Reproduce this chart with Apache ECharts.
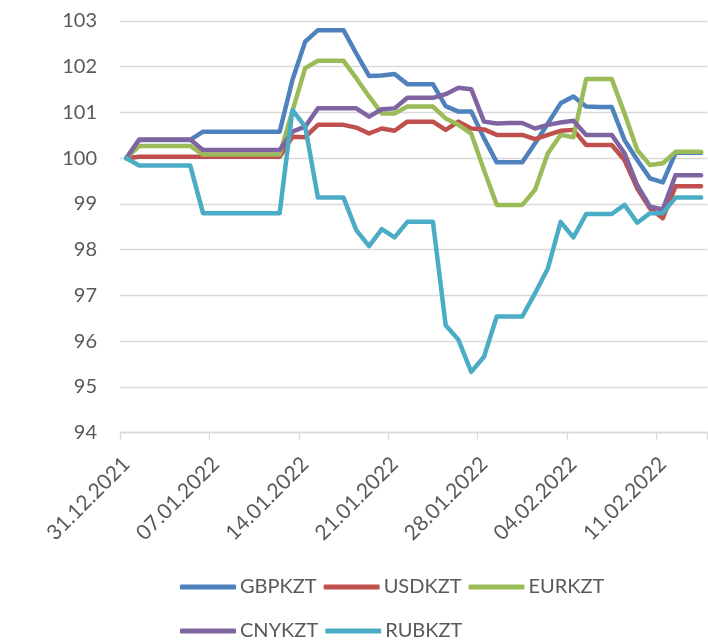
<!DOCTYPE html>
<html>
<head>
<meta charset="utf-8">
<script src="https://cdn.jsdelivr.net/npm/echarts@6/dist/echarts.min.js"></script>
<style>
html,body{margin:0;padding:0;background:#fff;}
#chart{width:708px;height:642px;}
</style>
</head>
<body>
<div id="chart"></div>
<script>
const dates = [
  '31.12.2021','01.01.2022','02.01.2022','03.01.2022','04.01.2022','05.01.2022','06.01.2022',
  '07.01.2022','08.01.2022','09.01.2022','10.01.2022','11.01.2022','12.01.2022','13.01.2022',
  '14.01.2022','15.01.2022','16.01.2022','17.01.2022','18.01.2022','19.01.2022','20.01.2022',
  '21.01.2022','22.01.2022','23.01.2022','24.01.2022','25.01.2022','26.01.2022','27.01.2022',
  '28.01.2022','29.01.2022','30.01.2022','31.01.2022','01.02.2022','02.02.2022','03.02.2022',
  '04.02.2022','05.02.2022','06.02.2022','07.02.2022','08.02.2022','09.02.2022','10.02.2022',
  '11.02.2022','12.02.2022','13.02.2022','14.02.2022'
];
const gbp = [100, 100.40, 100.40, 100.40, 100.40, 100.40, 100.58, 100.58, 100.58, 100.58, 100.58, 100.58, 100.58,
  101.71, 102.55, 102.80, 102.80, 102.80, 102.29, 101.80, 101.81, 101.84, 101.62, 101.62, 101.62,
  101.14, 101.02, 101.02, 100.44, 99.91, 99.91, 99.91, 100.33, 100.76, 101.20, 101.35, 101.13,
  101.12, 101.12, 100.40, 99.96, 99.56, 99.47, 100.12, 100.12, 100.12];
const usd = [100, 100.03, 100.03, 100.03, 100.03, 100.03, 100.03, 100.03, 100.03, 100.03, 100.03, 100.03, 100.03,
  100.47, 100.46, 100.73, 100.73, 100.73, 100.67, 100.54, 100.65, 100.60, 100.80, 100.80, 100.80,
  100.62, 100.80, 100.65, 100.63, 100.51, 100.51, 100.51, 100.42, 100.51, 100.60, 100.62, 100.29,
  100.29, 100.29, 99.96, 99.34, 98.90, 98.69, 99.39, 99.39, 99.39];
const eur = [100, 100.27, 100.27, 100.27, 100.27, 100.27, 100.08, 100.08, 100.08, 100.08, 100.08, 100.08, 100.08,
  101.03, 101.97, 102.13, 102.13, 102.13, 101.75, 101.35, 100.98, 100.98, 101.13, 101.13, 101.13,
  100.87, 100.73, 100.54, 99.74, 98.98, 98.98, 98.98, 99.31, 100.11, 100.51, 100.46, 101.73,
  101.73, 101.73, 100.98, 100.18, 99.85, 99.89, 100.14, 100.14, 100.14];
const cny = [100, 100.41, 100.41, 100.41, 100.41, 100.41, 100.18, 100.18, 100.18, 100.18, 100.18, 100.18, 100.18,
  100.58, 100.69, 101.09, 101.09, 101.09, 101.09, 100.91, 101.07, 101.09, 101.32, 101.32, 101.32,
  101.40, 101.54, 101.51, 100.80, 100.76, 100.77, 100.77, 100.65, 100.73, 100.78, 100.82, 100.51,
  100.51, 100.51, 100.11, 99.41, 98.94, 98.88, 99.63, 99.63, 99.63];
const rub = [100, 99.84, 99.84, 99.84, 99.84, 99.84, 98.80, 98.80, 98.80, 98.80, 98.80, 98.80, 98.80,
  101.05, 100.69, 99.14, 99.14, 99.14, 98.43, 98.08, 98.45, 98.27, 98.61, 98.61, 98.61,
  96.35, 96.03, 95.33, 95.66, 96.54, 96.54, 96.54, 97.05, 97.59, 98.61, 98.27, 98.78,
  98.78, 98.78, 98.98, 98.59, 98.80, 98.80, 99.14, 99.14, 99.14];
const seriesNames = ['GBPKZT', 'USDKZT', 'EURKZT', 'CNYKZT', 'RUBKZT'];
const seriesData = [gbp, usd, eur, cny, rub];
const colors = ['#4F81BD', '#C0504D', '#9BBB59', '#8064A2', '#4BACC6'];

const FONT = 'Lato';
const TXT = '#595959';
const chart = echarts.init(document.getElementById('chart'), null, {renderer: 'canvas'});
const legendCommon = {
  icon: 'roundRect',
  itemWidth: 56,
  itemHeight: 5,
  itemGap: 7,
  textStyle: {fontFamily: FONT, fontSize: 20, color: TXT, padding: [0, 0, 0, -1]},
  left: 180,
  padding: 0
};
chart.setOption({
  animation: false,
  color: colors,
  legend: [
    Object.assign({}, legendCommon, {top: 577, data: seriesNames.slice(0, 3)}),
    Object.assign({}, legendCommon, {top: 621, data: seriesNames.slice(3)})
  ],
  grid: {left: 120, top: 21, width: 587.5, height: 411.7, containLabel: false},
  xAxis: {
    type: 'category',
    data: dates,
    boundaryGap: true,
    axisLine: {lineStyle: {color: '#D9D9D9', width: 1.3}},
    axisTick: {show: true, interval: 6, alignWithLabel: false, length: 7, lineStyle: {color: '#D9D9D9', width: 1.3}},
    axisLabel: {interval: 6, rotate: 45, margin: 28, fontFamily: FONT, fontSize: 21, color: TXT},
    splitLine: {show: false}
  },
  yAxis: {
    type: 'value',
    min: 94, max: 103, interval: 1,
    axisLine: {show: false},
    axisTick: {show: false},
    axisLabel: {margin: 23, fontFamily: FONT, fontSize: 20, color: TXT},
    splitLine: {lineStyle: {color: '#D9D9D9', width: 1.3}}
  },
  series: seriesNames.map((n, i) => ({
    name: n,
    type: 'line',
    data: seriesData[i],
    showSymbol: false,
    symbol: 'none',
    lineStyle: {width: 4.5, color: colors[i], cap: 'round', join: 'round'},
    itemStyle: {color: colors[i]}
  }))
});
</script>
</body>
</html>
